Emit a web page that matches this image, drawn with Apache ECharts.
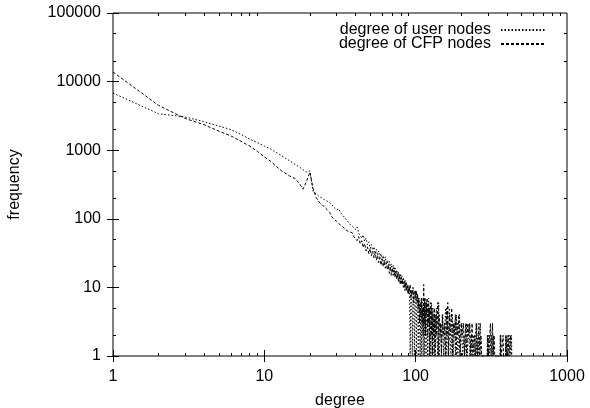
<!DOCTYPE html>
<html><head><meta charset="utf-8">
<script src="https://cdn.jsdelivr.net/npm/echarts@6/dist/echarts.min.js"></script>
<style>html,body{margin:0;padding:0;background:#fff}#c{width:590px;height:408px}</style>
</head><body><div id="c"></div>
<script>
// ---- data (degree, frequency) ----
const userDeg = [1,2,3,4,5,6,7,8,9,10,11,12,13,14,15,16,17,18,19,20,21,22,23,24,25,26,27,28,29,30,31,32,33,34,35,36,37,38,39,40,41,42,43,44,45,46,47,48,49,50,51,52,53,54,55,56,57,58,59,60,61,62,63,64,65,66,67,68,69,70,71,72,73,74,75,76,77,78,79,80,81,82,83,84,85,
86,87,88,89,90,91,92,93,94,95,96,97,98,99,100,101,102,103,104,105,106,107,108,109,110,111,112,113,114,115,116,117,118,119,120,121,122,123,124,125,126,127,128,129,130,132,134,135,137,138,140,142,143,146,148,151,153,156,158,159,162,164,167,169,171,175,177,181,183,186,188,190,195,197,202,204,209,211,217,219,226,228,233,235,242,244,251,253,259,261,268,270,296,298,300,305,307,318,320,326,328,360,362,364,392,394,396,402,404,418,420,430,432];
const userFreq = [6800,3400,3050,2600,2250,2000,1700,1450,1290,1150,1040,930,830,750,680,620,570,520,480,500,250,232,212,200,190,181,172,160,145,135,140,122,112,104,96,90,82,85,75,70,
76,62,66,52,58,47,52,42,46,37,42,35,39,31,36,29,34,27,31,25,29,23,28,22,25,20,24,19,22,17,21,16,20,15,18,14,17,13,16,12,15,11,14,10,13,
10,12,9,11,8,10,1,9,8,1,9,7,1,8,9,1,7,8,1,7,5,1,6,1,7,5,1,6,1,7,5,1,6,4,1,5,7,1,5,3,1,6,4,1,5,1,4,1,5,2,1,6,1,3,1,4,1,3,5,1,4,1,5,2,1,4,1,3,1,4,2,1,4,1,3,1,2,1,3,1,3,1,2,1,2,1,3,1,2,1,3,1,1,2,1,2,1,2,1,2,1,1,2,1,1,2,1,2,1,2,1,2,1];

const cfpDeg = [1,2,3,4,5,6,7,8,9,10,11,12,13,14,15,16,17,18,19,20,21,22,23,24,25,26,27,28,29,30,31,32,33,34,35,36,37,38,39,40,41,42,43,44,45,46,47,48,49,50,51,52,53,54,55,56,57,58,59,60,61,62,63,64,65,66,67,68,69,70,71,72,73,74,75,76,77,78,79,80,81,82,83,84,85,
86,87,88,89,90,91,92,93,94,95,96,97,98,99,100,101,102,103,104,105,106,107,108,109,110,111,112,113,114,115,116,117,118,119,120,121,122,123,124,125,126,127,128,129,130,131,133,134,136,137,139,140,141,143,145,147,148,150,152,155,157,160,161,163,165,168,170,173,175,178,180,183,185,188,190,193,196,200,203,207,210,214,217,221,224,228,231,236,239,245,249,253,256,262,265,270,273,298,300,303,310,312,315,320,322,325,328,330,333,363,365,368,376,378,381,393,395,398,408,410,413,423,425,428,434,436,438];
const cfpFreq = [13800,4500,2900,2350,1900,1620,1350,1150,960,800,690,580,500,450,410,385,330,270,350,480,275,205,175,162,148,136,124,106,98,92,86,80,77,71,68,65,62,63,55,56,
48,55,43,48,38,44,34,39,31,37,29,34,27,32,25,29,23,27,21,26,20,24,19,23,18,21,16,20,15,19,15,18,14,17,13,16,12,15,11,14,11,13,10,12,9,
12,9,11,8,10,9,11,7,9,8,10,6,8,9,7,9,6,8,5,7,3,6,4,7,3,5,2,11,3,7,2,6,4,7,2,6,3,5,1,6,4,2,5,1,4,2,5,1,4,2,3,6,1,4,2,3,1,4,2,3,1,5,2,6,1,4,2,5,1,3,2,4,1,3,2,4,1,3,2,3,1,3,1,3,2,3,1,3,1,2,1,3,1,3,1,2,1,1,2,1,1,3,1,1,3,1,1,2,1,1,2,1,1,2,1,1,2,1,1,2,1,1,2,1];

const seriesNames = ['degree of user nodes', 'degree of CFP nodes'];
const xTicks = [1, 10, 100, 1000];
const yTicks = [1, 10, 100, 1000, 10000, 100000];
const xMinorTicks = [2,3,4,5,6,7,8,9,20,30,40,50,60,70,80,90,200,300,400,500,600,700,800,900];
const yMinorTicks = [2,5,20,50,200,500,2000,5000,20000,50000];

const FONT = "'Liberation Sans', Arial, Helvetica, sans-serif";
const pairs = (d, f) => d.map((v, i) => [v, f[i]]);
const lg = v => Math.log10(v);

const chart = echarts.init(document.getElementById('c'), null, {renderer: 'canvas'});
const noLine = {show: false};
const majTick = {show: true, inside: true, length: 6, lineStyle: {color: '#000', width: 1}};
const minTickX = {show: true, inside: true, length: 3, lineStyle: {color: '#000', width: 1}, customValues: xMinorTicks.map(lg)};
const minTickY = {show: true, inside: true, length: 3, lineStyle: {color: '#000', width: 1}, customValues: yMinorTicks.map(lg)};
const lab = {color: '#000', fontSize: 16, fontFamily: FONT};

chart.setOption({
  animation: false,
  backgroundColor: '#fff',
  grid: {left: 113, right: 23, top: 13, bottom: 52, containLabel: false, outerBoundsMode: 'none',
         show: true, borderColor: '#000', borderWidth: 1, backgroundColor: 'transparent'},
  legend: {
    data: seriesNames, orient: 'vertical', right: 43, top: 22, align: 'right',
    itemWidth: 45, itemHeight: 2, itemGap: -2, padding: 0,
    itemStyle: {opacity: 0},
    textStyle: {color: '#000', fontSize: 16, fontFamily: FONT, lineHeight: 15, padding: [0, 5, 0, 0]}
  },
  xAxis: [
    {type: 'log', logBase: 10, min: 1, max: 1000, position: 'bottom', axisLine: noLine, axisTick: majTick,
     axisLabel: Object.assign({margin: 13, formatter: v => xTicks.includes(v) ? String(v) : ''}, lab),
     splitLine: {show: false}, minorTick: {show: false},
     name: 'degree', nameLocation: 'middle', nameGap: 37, nameTextStyle: lab},
    {type: 'log', logBase: 10, min: 1, max: 1000, position: 'top', axisLine: noLine, axisTick: majTick,
     axisLabel: {show: false}, splitLine: {show: false}},
    {type: 'value', min: 0, max: 3, position: 'bottom', axisLine: noLine, axisTick: minTickX,
     axisLabel: {show: false}, splitLine: {show: false}},
    {type: 'value', min: 0, max: 3, position: 'top', axisLine: noLine, axisTick: minTickX,
     axisLabel: {show: false}, splitLine: {show: false}}
  ],
  yAxis: [
    {type: 'log', logBase: 10, min: 1, max: 100000, position: 'left', axisLine: noLine, axisTick: majTick,
     axisLabel: Object.assign({margin: 12, formatter: v => yTicks.includes(v) ? String(v) : ''}, lab),
     splitLine: {show: false},
     name: 'frequency', nameLocation: 'middle', nameGap: 90, nameRotate: 90, nameTextStyle: lab},
    {type: 'log', logBase: 10, min: 1, max: 100000, position: 'right', axisLine: noLine, axisTick: majTick,
     axisLabel: {show: false}, splitLine: {show: false}},
    {type: 'value', min: 0, max: 5, position: 'left', axisLine: noLine, axisTick: minTickY,
     axisLabel: {show: false}, splitLine: {show: false}},
    {type: 'value', min: 0, max: 5, position: 'right', axisLine: noLine, axisTick: minTickY,
     axisLabel: {show: false}, splitLine: {show: false}}
  ],
  series: [
    {name: seriesNames[0], type: 'line', xAxisIndex: 0, yAxisIndex: 0, data: pairs(userDeg, userFreq),
     showSymbol: false, symbol: 'none', lineStyle: {color: '#000', width: 1, type: [1.5, 2]}, itemStyle: {color: '#000'}},
    {name: seriesNames[1], type: 'line', xAxisIndex: 0, yAxisIndex: 0, data: pairs(cfpDeg, cfpFreq),
     showSymbol: false, symbol: 'none', lineStyle: {color: '#000', width: 1, type: [3, 2]}, itemStyle: {color: '#000'}}
  ]
});
</script></body></html>
